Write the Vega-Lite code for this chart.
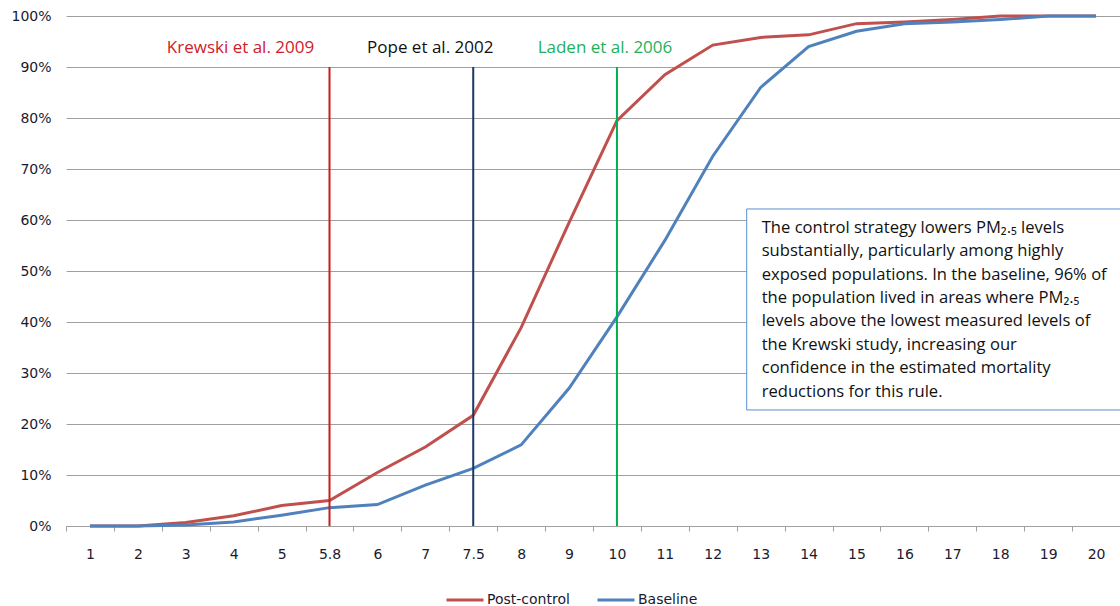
{
  "$schema": "https://vega.github.io/schema/vega-lite/v6.json",
  "width": 1054,
  "height": 510,
  "autosize": {"type": "none"},
  "padding": {"left": 66, "top": 16, "right": 0, "bottom": 80},
  "background": "white",
  "config": {"view": {"stroke": null}, "font": "DejaVu Sans"},
  "datasets": {
    "curves": [
      {"pm": "1", "series": "Post-control", "share": 0.0},
      {"pm": "2", "series": "Post-control", "share": 0.0},
      {"pm": "3", "series": "Post-control", "share": 0.007},
      {"pm": "4", "series": "Post-control", "share": 0.02},
      {"pm": "5", "series": "Post-control", "share": 0.04},
      {"pm": "5.8", "series": "Post-control", "share": 0.05},
      {"pm": "6", "series": "Post-control", "share": 0.105},
      {"pm": "7", "series": "Post-control", "share": 0.155},
      {"pm": "7.5", "series": "Post-control", "share": 0.217},
      {"pm": "8", "series": "Post-control", "share": 0.389},
      {"pm": "9", "series": "Post-control", "share": 0.595},
      {"pm": "10", "series": "Post-control", "share": 0.795},
      {"pm": "11", "series": "Post-control", "share": 0.885},
      {"pm": "12", "series": "Post-control", "share": 0.943},
      {"pm": "13", "series": "Post-control", "share": 0.958},
      {"pm": "14", "series": "Post-control", "share": 0.963},
      {"pm": "15", "series": "Post-control", "share": 0.985},
      {"pm": "16", "series": "Post-control", "share": 0.988},
      {"pm": "17", "series": "Post-control", "share": 0.993},
      {"pm": "18", "series": "Post-control", "share": 1.0},
      {"pm": "19", "series": "Post-control", "share": 1.0},
      {"pm": "20", "series": "Post-control", "share": 1.0},
      {"pm": "1", "series": "Baseline", "share": 0.0},
      {"pm": "2", "series": "Baseline", "share": 0.0},
      {"pm": "3", "series": "Baseline", "share": 0.002},
      {"pm": "4", "series": "Baseline", "share": 0.008},
      {"pm": "5", "series": "Baseline", "share": 0.021},
      {"pm": "5.8", "series": "Baseline", "share": 0.036},
      {"pm": "6", "series": "Baseline", "share": 0.042},
      {"pm": "7", "series": "Baseline", "share": 0.08},
      {"pm": "7.5", "series": "Baseline", "share": 0.113},
      {"pm": "8", "series": "Baseline", "share": 0.159},
      {"pm": "9", "series": "Baseline", "share": 0.27},
      {"pm": "10", "series": "Baseline", "share": 0.41},
      {"pm": "11", "series": "Baseline", "share": 0.56},
      {"pm": "12", "series": "Baseline", "share": 0.725},
      {"pm": "13", "series": "Baseline", "share": 0.86},
      {"pm": "14", "series": "Baseline", "share": 0.94},
      {"pm": "15", "series": "Baseline", "share": 0.97},
      {"pm": "16", "series": "Baseline", "share": 0.985},
      {"pm": "17", "series": "Baseline", "share": 0.988},
      {"pm": "18", "series": "Baseline", "share": 0.993},
      {"pm": "19", "series": "Baseline", "share": 1.0},
      {"pm": "20", "series": "Baseline", "share": 1.0}
    ],
    "studies": [
      {"pm": "5.8", "study": "Krewski et al. 2009", "top": 0.9},
      {"pm": "7.5", "study": "Pope et al. 2002", "top": 0.9},
      {"pm": "10", "study": "Laden et al. 2006", "top": 0.9}
    ],
    "note": [
      {"pm": "13", "top": 0.6216, "bottom": 0.2275, "pmEnd": "20", "line1": 0.575,
       "text": "The control strategy lowers PM₂.₅ levels\nsubstantially, particularly among highly\nexposed populations. In the baseline, 96% of\nthe population lived in areas where PM₂.₅\nlevels above the lowest measured levels of\nthe Krewski study,  increasing our\nconfidence in the estimated mortality\nreductions for this rule."}
    ]
  },
  "layer": [
    {
      "data": {"name": "curves"},
      "mark": {"type": "line", "strokeWidth": 3},
      "encoding": {
        "x": {
          "field": "pm", "type": "ordinal",
          "scale": {"type": "band", "domain": ["1","2","3","4","5","5.8","6","7","7.5","8","9","10","11","12","13","14","15","16","17","18","19","20"], "paddingInner": 0, "paddingOuter": 0},
          "axis": {"title": null, "labelAngle": 0, "tickBand": "extent", "grid": false, "domainColor": "#a0a0a0", "tickColor": "#a0a0a0", "tickSize": 5, "labelPadding": 16, "labelFontSize": 14, "labelColor": "#1a1a2e", "labelFont": "DejaVu Sans"}
        },
        "y": {
          "field": "share", "type": "quantitative",
          "scale": {"domain": [0, 1], "nice": false},
          "axis": {"title": null, "format": ".0%", "values": [0, 0.1, 0.2, 0.3, 0.4, 0.5, 0.6, 0.7, 0.8, 0.9, 1.0], "grid": true, "gridColor": "#a0a0a0", "domain": false, "ticks": false, "labelPadding": 15, "labelFontSize": 14, "labelColor": "#1a1a2e", "labelFont": "DejaVu Sans"}
        },
        "color": {
          "field": "series", "type": "nominal",
          "scale": {"domain": ["Post-control", "Baseline"], "range": ["#c0504d", "#4f81bd"]},
          "legend": {"title": null, "orient": "none", "legendX": 379, "legendY": 564, "direction": "horizontal", "symbolType": "stroke", "symbolSize": 1369, "symbolStrokeWidth": 3, "labelFontSize": 14, "labelFont": "DejaVu Sans", "labelColor": "#1a1a2e", "labelOffset": 2, "columnPadding": 21, "padding": 0}
        }
      }
    },
    {
      "data": {"name": "studies"},
      "mark": {"type": "rule", "strokeWidth": 2},
      "encoding": {
        "x": {"field": "pm", "type": "ordinal"},
        "y": {"field": "top", "type": "quantitative"},
        "y2": {"datum": 0},
        "stroke": {"field": "study", "type": "nominal", "scale": {"domain": ["Krewski et al. 2009", "Pope et al. 2002", "Laden et al. 2006"], "range": ["#cc1a1a", "#1c3668", "#00b050"]}, "legend": null}
      }
    },
    {
      "data": {"name": "studies"},
      "transform": [{"filter": "datum.pm == '5.8'"}],
      "mark": {"type": "text", "font": "Open Sans", "fontSize": 17, "align": "center", "baseline": "alphabetic", "dx": -89, "color": "#d0202a"},
      "encoding": {"x": {"field": "pm", "type": "ordinal"}, "y": {"datum": 0.927}, "text": {"field": "study"}}
    },
    {
      "data": {"name": "studies"},
      "transform": [{"filter": "datum.pm == '7.5'"}],
      "mark": {"type": "text", "font": "Open Sans", "fontSize": 17, "align": "center", "baseline": "alphabetic", "dx": -43, "color": "#111111"},
      "encoding": {"x": {"field": "pm", "type": "ordinal"}, "y": {"datum": 0.927}, "text": {"field": "study"}}
    },
    {
      "data": {"name": "studies"},
      "transform": [{"filter": "datum.pm == '10'"}],
      "mark": {"type": "text", "font": "Open Sans", "fontSize": 17, "align": "center", "baseline": "alphabetic", "dx": -12, "color": "#1fb05c"},
      "encoding": {"x": {"field": "pm", "type": "ordinal"}, "y": {"datum": 0.927}, "text": {"field": "study"}}
    },
    {
      "data": {"name": "note"},
      "mark": {"type": "rect", "fill": "white", "stroke": "#5b8fd0", "strokeWidth": 1, "xOffset": -14, "x2Offset": 60},
      "encoding": {
        "x": {"field": "pm", "type": "ordinal"},
        "x2": {"field": "pmEnd"},
        "y": {"field": "top", "type": "quantitative"},
        "y2": {"field": "bottom"}
      }
    },
    {
      "data": {"name": "note"},
      "mark": {"type": "text", "font": "Open Sans", "fontSize": 16.6, "align": "left", "baseline": "alphabetic", "lineBreak": "\n", "lineHeight": 23.4, "dx": 1, "color": "#111111"},
      "encoding": {
        "x": {"field": "pm", "type": "ordinal"},
        "y": {"field": "line1", "type": "quantitative"},
        "text": {"field": "text"}
      }
    }
  ]
}
